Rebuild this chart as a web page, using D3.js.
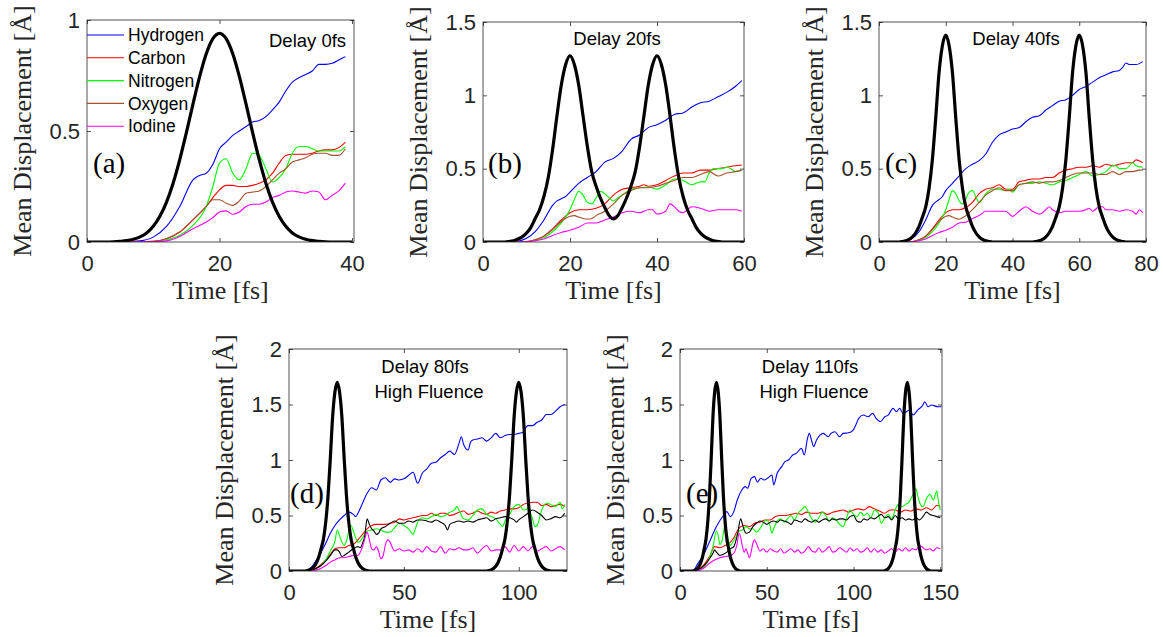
<!DOCTYPE html>
<html>
<head>
<meta charset="utf-8">
<script src="https://cdn.jsdelivr.net/npm/d3@7"></script>
<style>
  body { margin: 0; background: #fff; }
  svg { display: block; }
</style>
</head>
<body>
<div id="chart"></div>
<script>
// legend names and colours (from panel a)
const speciesNames = ["Hydrogen", "Carbon", "Nitrogen", "Oxygen", "Iodine"];
const speciesColors = ["#0000ff", "#ff0000", "#00ff00", "#a5502a", "#ff00ff"];

// ---- panel (a) : delay 0 fs ----
const hydrogenA = [[0,0],[6,0.001],[8,0.005],[10,0.022],[12,0.07],[14,0.16],[16,0.28],[17,0.30],[18,0.31],[19,0.35],[20,0.42],[21,0.45],[22,0.48],[23,0.50],[24,0.52],[25,0.54],[26,0.547],[27,0.565],[28,0.595],[29,0.63],[30,0.68],[31,0.72],[32,0.74],[33,0.755],[34,0.77],[35,0.80],[36,0.80],[37,0.805],[38,0.82],[39,0.835]];
const carbonA = [[0,0],[8,0.001],[10,0.003],[12,0.015],[14,0.045],[16,0.10],[18,0.16],[19,0.20],[20,0.235],[21,0.255],[22,0.255],[23,0.25],[24,0.25],[25,0.255],[26,0.265],[27,0.28],[28,0.31],[29,0.355],[30,0.39],[31,0.395],[32,0.395],[33,0.395],[34,0.40],[35,0.41],[36,0.415],[37,0.415],[38,0.425],[39,0.45]];
const nitrogenA = [[0,0],[8,0.001],[10,0.002],[12,0.01],[14,0.03],[16,0.075],[18,0.16],[19,0.25],[20,0.355],[21,0.375],[22,0.31],[23,0.28],[24,0.33],[25,0.40],[26,0.39],[27,0.33],[28,0.27],[29,0.29],[30,0.33],[31,0.40],[32,0.43],[33,0.43],[34,0.42],[35,0.41],[36,0.41],[37,0.41],[38,0.41],[39,0.43]];
const oxygenA = [[0,0],[8,0.001],[10,0.003],[12,0.015],[14,0.045],[16,0.10],[18,0.16],[19,0.19],[20,0.19],[21,0.175],[22,0.165],[23,0.185],[24,0.22],[25,0.225],[26,0.23],[27,0.25],[28,0.28],[29,0.31],[30,0.33],[31,0.36],[32,0.37],[33,0.38],[34,0.395],[35,0.40],[36,0.40],[37,0.39],[38,0.39],[39,0.42]];
const iodineA = [[0,0],[8,0.0005],[10,0.001],[12,0.005],[14,0.025],[16,0.06],[18,0.09],[19,0.11],[20,0.135],[21,0.14],[22,0.125],[23,0.135],[24,0.16],[25,0.17],[26,0.17],[27,0.18],[28,0.20],[29,0.21],[30,0.225],[31,0.23],[32,0.225],[33,0.22],[34,0.23],[35,0.225],[36,0.19],[37,0.21],[38,0.23],[39,0.265]];
const pulseA = [[0,0],[3,0],[4,0.001],[5,0.003],[6,0.006],[7,0.012],[8,0.023],[9,0.041],[10,0.071],[11,0.116],[12,0.180],[13,0.265],[14,0.371],[15,0.493],[16,0.622],[17,0.745],[18,0.848],[19,0.916],[20,0.94],[21,0.916],[22,0.848],[23,0.745],[24,0.622],[25,0.493],[26,0.371],[27,0.265],[28,0.180],[29,0.116],[30,0.071],[31,0.041],[32,0.023],[33,0.012],[34,0.006],[35,0.003],[36,0.001],[37,0],[40,0]];

// ---- panel (b) : delay 20 fs ----
const hydrogenB = [[0,0],[6,0.001],[8,0.005],[10,0.025],[12,0.07],[14,0.15],[16,0.25],[17,0.28],[18,0.295],[19,0.31],[20,0.34],[22,0.40],[24,0.44],[26,0.48],[28,0.545],[30,0.57],[32,0.62],[34,0.70],[36,0.73],[38,0.78],[40,0.80],[42,0.83],[44,0.87],[46,0.88],[48,0.92],[50,0.95],[52,0.96],[54,0.99],[56,1.02],[58,1.06],[59.5,1.10]];
const carbonB = [[0,0],[8,0.001],[10,0.003],[12,0.015],[14,0.04],[16,0.09],[18,0.15],[20,0.20],[22,0.22],[24,0.22],[26,0.23],[28,0.26],[30,0.32],[32,0.36],[34,0.37],[36,0.38],[37,0.39],[38,0.38],[40,0.39],[42,0.42],[44,0.45],[46,0.47],[48,0.47],[50,0.49],[52,0.49],[54,0.50],[56,0.51],[58,0.52],[59.5,0.525]];
const nitrogenB = [[0,0],[8,0.001],[10,0.002],[12,0.01],[14,0.03],[16,0.07],[18,0.13],[20,0.22],[21,0.29],[22,0.345],[23,0.32],[24,0.27],[25,0.26],[26,0.30],[27,0.345],[28,0.33],[29,0.30],[30,0.28],[31,0.30],[32,0.32],[34,0.36],[36,0.37],[38,0.375],[40,0.36],[42,0.39],[44,0.43],[46,0.42],[48,0.39],[50,0.41],[51,0.41],[52,0.47],[53,0.50],[55,0.50],[56,0.51],[57,0.50],[58,0.48],[59.5,0.49]];
const oxygenB = [[0,0],[8,0.001],[10,0.003],[12,0.015],[14,0.04],[16,0.085],[18,0.14],[20,0.175],[21,0.18],[22,0.17],[23,0.16],[24,0.155],[25,0.16],[26,0.18],[28,0.21],[30,0.26],[32,0.32],[34,0.35],[36,0.37],[38,0.37],[40,0.38],[42,0.40],[44,0.42],[46,0.44],[48,0.44],[50,0.46],[52,0.48],[54,0.45],[56,0.47],[58,0.48],[59.5,0.49]];
const iodineB = [[0,0],[8,0.0005],[10,0.002],[12,0.008],[14,0.02],[16,0.045],[18,0.065],[20,0.08],[22,0.10],[24,0.13],[26,0.13],[28,0.15],[30,0.17],[32,0.20],[34,0.21],[36,0.20],[38,0.22],[39,0.22],[40,0.19],[42,0.21],[43,0.26],[44,0.24],[45,0.21],[46,0.20],[48,0.24],[50,0.23],[52,0.21],[54,0.22],[56,0.22],[58,0.22],[59.5,0.21]];
const pulseB = [[0,0],[5,0],[6,0.003],[7,0.008],[8,0.02],[9,0.035],[10,0.06],[11,0.10],[12,0.16],[13,0.22],[14,0.31],[15,0.44],[16,0.63],[17,0.86],[18,1.07],[19,1.21],[20,1.27],[21,1.21],[22,1.07],[23,0.86],[24,0.65],[25,0.48],[26,0.38],[27,0.30],[28,0.235],[29,0.18],[30,0.157],[31,0.18],[32,0.235],[33,0.30],[34,0.38],[35,0.48],[36,0.65],[37,0.86],[38,1.07],[39,1.21],[40,1.27],[41,1.21],[42,1.07],[43,0.86],[44,0.63],[45,0.44],[46,0.31],[47,0.22],[48,0.16],[49,0.10],[50,0.06],[51,0.035],[52,0.02],[53,0.008],[54,0.003],[55,0],[60,0]];

// ---- panel (c) : delay 40 fs ----
const hydrogenC = [[0,0],[6,0.001],[8,0.005],[10,0.025],[12,0.07],[14,0.15],[16,0.25],[18,0.29],[19,0.31],[20,0.35],[22,0.40],[24,0.45],[26,0.50],[28,0.53],[30,0.555],[32,0.60],[34,0.68],[36,0.73],[38,0.75],[40,0.77],[42,0.78],[44,0.82],[46,0.85],[48,0.86],[50,0.90],[52,0.93],[54,0.96],[56,0.97],[58,1.00],[60,1.04],[62,1.06],[64,1.09],[66,1.12],[68,1.14],[70,1.16],[72,1.17],[73,1.19],[74,1.22],[75,1.21],[77,1.21],[79,1.23]];
const carbonC = [[0,0],[8,0.001],[10,0.003],[12,0.015],[14,0.04],[16,0.09],[18,0.15],[20,0.20],[22,0.22],[24,0.22],[26,0.235],[28,0.27],[30,0.33],[32,0.36],[34,0.37],[36,0.39],[38,0.36],[40,0.36],[42,0.41],[44,0.42],[46,0.43],[48,0.43],[50,0.44],[52,0.44],[54,0.47],[56,0.49],[58,0.50],[60,0.51],[62,0.51],[64,0.52],[66,0.51],[68,0.53],[70,0.52],[72,0.53],[74,0.54],[76,0.54],[77,0.56],[79,0.54]];
const nitrogenC = [[0,0],[8,0.001],[10,0.002],[12,0.01],[14,0.03],[16,0.07],[18,0.13],[20,0.22],[21,0.29],[22,0.35],[23,0.33],[24,0.28],[25,0.26],[26,0.29],[27,0.34],[28,0.35],[29,0.31],[30,0.27],[32,0.33],[34,0.36],[36,0.36],[38,0.35],[39,0.36],[40,0.34],[42,0.39],[44,0.40],[46,0.40],[48,0.41],[50,0.40],[52,0.39],[54,0.41],[56,0.42],[58,0.44],[60,0.46],[62,0.48],[64,0.45],[66,0.46],[68,0.48],[70,0.52],[71,0.52],[72,0.50],[74,0.50],[76,0.54],[77,0.52],[79,0.51]];
const oxygenC = [[0,0],[8,0.001],[10,0.003],[12,0.015],[14,0.04],[16,0.085],[18,0.14],[20,0.175],[21,0.18],[22,0.17],[24,0.155],[26,0.18],[28,0.22],[30,0.27],[32,0.32],[34,0.35],[36,0.37],[38,0.35],[40,0.35],[42,0.39],[44,0.40],[46,0.41],[48,0.40],[50,0.41],[52,0.41],[54,0.42],[56,0.44],[58,0.46],[60,0.47],[62,0.47],[64,0.47],[66,0.46],[68,0.46],[70,0.48],[72,0.46],[74,0.48],[76,0.48],[78,0.49],[79,0.49]];
const iodineC = [[0,0],[8,0.0005],[10,0.002],[12,0.008],[14,0.02],[16,0.045],[18,0.065],[20,0.08],[22,0.10],[24,0.13],[26,0.135],[28,0.16],[30,0.18],[32,0.21],[34,0.21],[36,0.21],[38,0.21],[40,0.175],[42,0.21],[44,0.24],[46,0.21],[48,0.19],[50,0.22],[51,0.24],[52,0.22],[54,0.20],[56,0.21],[58,0.21],[60,0.21],[62,0.22],[63,0.23],[64,0.21],[66,0.24],[67,0.24],[68,0.22],[70,0.22],[72,0.21],[74,0.22],[76,0.21],[77,0.19],[78,0.22],[79,0.20]];
const pulseC = [[0,0],[6,0],[7,0.003],[8,0.008],[9,0.018],[10,0.035],[11,0.063],[12,0.106],[13,0.169],[14,0.24],[15,0.367],[16,0.564],[17,0.846],[18,1.156],[19,1.34],[20,1.41],[21,1.34],[22,1.156],[23,0.846],[24,0.564],[25,0.367],[26,0.24],[27,0.169],[28,0.106],[29,0.063],[30,0.035],[31,0.018],[32,0.008],[33,0.003],[34,0],[46,0],[47,0.003],[48,0.008],[49,0.018],[50,0.035],[51,0.063],[52,0.106],[53,0.169],[54,0.24],[55,0.367],[56,0.564],[57,0.846],[58,1.156],[59,1.34],[60,1.41],[61,1.34],[62,1.156],[63,0.846],[64,0.564],[65,0.367],[66,0.24],[67,0.169],[68,0.106],[69,0.063],[70,0.035],[71,0.018],[72,0.008],[73,0.003],[74,0],[80,0]];

// ---- panel (d) : delay 80 fs, high fluence ----
const hydrogenD = [[0,0],[6,0.001],[8,0.01],[10,0.04],[12,0.10],[14,0.17],[16,0.25],[18,0.34],[20,0.41],[22,0.46],[24,0.50],[26,0.53],[28,0.51],[29,0.49],[30,0.52],[32,0.61],[34,0.70],[36,0.75],[38,0.73],[40,0.82],[42,0.84],[43,0.82],[44,0.80],[46,0.83],[48,0.82],[50,0.83],[52,0.86],[54,0.89],[56,0.79],[58,0.88],[60,0.92],[62,0.97],[64,0.98],[66,1.02],[68,1.05],[70,1.08],[72,1.05],[74,1.15],[75,1.21],[76,1.14],[78,1.09],[79,1.16],[80,1.18],[82,1.19],[84,1.20],[86,1.17],[88,1.20],[90,1.24],[92,1.20],[94,1.22],[96,1.23],[98,1.23],[100,1.24],[102,1.25],[103,1.29],[104,1.31],[106,1.31],[108,1.34],[110,1.36],[112,1.41],[114,1.41],[116,1.44],[118,1.48],[120,1.50]];
const carbonD = [[0,0],[8,0.003],[10,0.01],[12,0.03],[14,0.06],[16,0.10],[18,0.15],[20,0.20],[22,0.21],[24,0.21],[26,0.23],[28,0.24],[30,0.28],[32,0.33],[34,0.38],[36,0.41],[38,0.42],[40,0.42],[42,0.42],[44,0.43],[46,0.44],[48,0.47],[50,0.46],[52,0.47],[54,0.48],[56,0.49],[58,0.50],[60,0.50],[62,0.52],[64,0.50],[66,0.52],[68,0.52],[70,0.50],[72,0.51],[74,0.53],[76,0.54],[78,0.51],[80,0.52],[82,0.54],[84,0.52],[86,0.51],[88,0.53],[90,0.52],[92,0.54],[94,0.55],[96,0.56],[98,0.56],[100,0.57],[102,0.60],[104,0.61],[106,0.62],[108,0.62],[110,0.59],[112,0.60],[114,0.58],[116,0.59],[118,0.60],[120,0.58]];
const nitrogenD = [[0,0],[8,0.002],[10,0.005],[12,0.02],[14,0.05],[16,0.10],[18,0.18],[20,0.27],[21,0.37],[22,0.32],[23,0.26],[24,0.23],[25,0.27],[26,0.35],[27,0.41],[28,0.36],[29,0.30],[30,0.26],[31,0.27],[32,0.30],[34,0.36],[36,0.37],[38,0.38],[40,0.37],[42,0.35],[44,0.35],[46,0.39],[48,0.43],[50,0.41],[52,0.38],[54,0.33],[55,0.38],[56,0.44],[58,0.48],[60,0.47],[62,0.49],[64,0.51],[66,0.49],[68,0.50],[70,0.53],[72,0.55],[73,0.58],[74,0.55],[76,0.47],[78,0.46],[80,0.50],[82,0.55],[84,0.56],[86,0.51],[88,0.49],[90,0.47],[92,0.42],[93,0.40],[94,0.45],[96,0.51],[98,0.58],[100,0.60],[102,0.55],[104,0.56],[106,0.47],[107,0.40],[108,0.41],[110,0.55],[112,0.61],[114,0.60],[116,0.58],[118,0.62],[119,0.56],[120,0.60]];
const oxygenD = [[0,0],[8,0.002],[10,0.008],[12,0.025],[14,0.05],[16,0.09],[18,0.14],[20,0.19],[21,0.19],[22,0.17],[23,0.13],[24,0.14],[26,0.17],[28,0.20],[30,0.22],[31,0.21],[32,0.25],[33,0.32],[34,0.47],[35,0.42],[36,0.38],[37,0.36],[38,0.33],[39,0.34],[40,0.38],[42,0.40],[44,0.43],[46,0.45],[48,0.43],[50,0.43],[52,0.45],[54,0.44],[56,0.46],[58,0.46],[60,0.45],[62,0.44],[64,0.46],[66,0.44],[68,0.41],[69,0.37],[70,0.42],[72,0.44],[74,0.45],[76,0.44],[78,0.45],[80,0.44],[82,0.46],[84,0.47],[86,0.48],[88,0.45],[90,0.47],[92,0.48],[94,0.49],[96,0.48],[98,0.46],[99,0.44],[100,0.46],[102,0.49],[104,0.52],[106,0.55],[108,0.53],[110,0.50],[112,0.46],[114,0.47],[116,0.49],[118,0.48],[120,0.52]];
const iodineD = [[0,0],[8,0.001],[10,0.003],[12,0.01],[14,0.025],[16,0.05],[18,0.08],[20,0.10],[22,0.12],[24,0.12],[26,0.13],[28,0.14],[30,0.14],[31,0.17],[32,0.22],[33,0.29],[34,0.35],[35,0.28],[36,0.20],[37,0.19],[38,0.22],[39,0.18],[40,0.11],[41,0.14],[42,0.24],[43,0.28],[44,0.26],[45,0.21],[46,0.18],[48,0.20],[50,0.18],[52,0.19],[54,0.17],[56,0.20],[58,0.17],[60,0.22],[62,0.18],[64,0.17],[66,0.22],[68,0.16],[70,0.20],[72,0.19],[74,0.21],[76,0.19],[78,0.19],[80,0.21],[82,0.16],[84,0.20],[86,0.23],[88,0.18],[90,0.19],[92,0.19],[94,0.22],[96,0.17],[98,0.23],[100,0.18],[102,0.22],[104,0.18],[106,0.22],[108,0.18],[110,0.20],[112,0.22],[114,0.18],[116,0.20],[118,0.22],[120,0.19]];
const pulseD = [[0,0],[7,0],[8,0.003],[9,0.010],[10,0.022],[11,0.043],[12,0.077],[13,0.128],[14,0.204],[15,0.289],[16,0.442],[17,0.68],[18,1.02],[19,1.394],[20,1.615],[21,1.70],[22,1.615],[23,1.394],[24,1.02],[25,0.68],[26,0.442],[27,0.289],[28,0.204],[29,0.128],[30,0.077],[31,0.043],[32,0.022],[33,0.010],[34,0.003],[35,0],[86,0],[87,0.003],[88,0.010],[89,0.022],[90,0.043],[91,0.077],[92,0.128],[93,0.204],[94,0.289],[95,0.442],[96,0.68],[97,1.02],[98,1.394],[99,1.615],[100,1.70],[101,1.615],[102,1.394],[103,1.02],[104,0.68],[105,0.442],[106,0.289],[107,0.204],[108,0.128],[109,0.077],[110,0.043],[111,0.022],[112,0.010],[113,0.003],[114,0],[121,0]];

// ---- panel (e) : delay 110 fs, high fluence ----
const hydrogenE = [[0,0],[6,0.002],[8,0.01],[10,0.06],[14,0.16],[17.5,0.28],[21,0.40],[25,0.50],[27,0.535],[29,0.49],[31,0.535],[33,0.64],[35.6,0.73],[37.5,0.76],[39,0.745],[41,0.835],[43,0.85],[44.6,0.80],[46.5,0.835],[48.5,0.82],[50.4,0.835],[53,0.865],[54,0.775],[56,0.88],[58.6,0.94],[60.5,0.985],[62.5,1.00],[65,1.045],[67,1.06],[70,1.105],[71.6,1.045],[73.5,1.195],[74.5,1.24],[76,1.165],[77,1.12],[78.7,1.18],[80.7,1.225],[82.6,1.24],[85.4,1.21],[87,1.24],[89.3,1.255],[92,1.21],[94,1.24],[97,1.245],[99.8,1.27],[101.3,1.315],[103,1.375],[105.6,1.405],[108.4,1.39],[111,1.42],[113,1.375],[115.5,1.345],[118,1.39],[120,1.405],[122.8,1.465],[124.7,1.435],[126.6,1.465],[128.5,1.42],[132.4,1.45],[134.3,1.405],[137,1.45],[140,1.495],[141,1.525],[143,1.48],[144.8,1.495],[148.7,1.48],[150.6,1.48]];
const carbonE = [[0,0],[8,0.003],[10,0.01],[14,0.06],[17,0.13],[20,0.22],[23,0.21],[26,0.23],[29,0.26],[31,0.30],[33,0.36],[35,0.40],[37,0.41],[40,0.40],[43,0.43],[46,0.44],[49,0.46],[52,0.46],[55,0.49],[58,0.50],[61,0.50],[64,0.51],[67,0.52],[70,0.51],[73,0.53],[76,0.52],[79,0.52],[82,0.53],[85,0.51],[88,0.53],[91,0.54],[94,0.55],[97,0.53],[100,0.55],[103,0.56],[106,0.55],[109,0.58],[112,0.56],[115,0.54],[118,0.52],[121,0.55],[124,0.55],[127,0.53],[130,0.55],[133,0.54],[136,0.56],[139,0.55],[142,0.57],[145,0.55],[148,0.59],[150,0.58]];
const nitrogenE = [[0,0],[8,0.002],[10,0.005],[14,0.04],[17,0.12],[19,0.22],[21,0.36],[22,0.32],[23,0.24],[24,0.26],[25,0.34],[26,0.42],[27,0.35],[28,0.27],[29,0.23],[30,0.25],[32,0.30],[34,0.36],[36,0.37],[38,0.40],[40,0.38],[42,0.38],[44,0.35],[46,0.38],[48,0.43],[50,0.46],[52,0.40],[53,0.34],[54,0.38],[56,0.45],[58,0.47],[60,0.44],[62,0.47],[64,0.50],[66,0.46],[68,0.52],[70,0.55],[72,0.58],[74,0.53],[76,0.47],[78,0.44],[80,0.48],[82,0.53],[84,0.50],[86,0.45],[88,0.48],[90,0.46],[92,0.42],[94,0.40],[96,0.48],[98,0.55],[100,0.51],[102,0.49],[104,0.53],[106,0.50],[108,0.52],[110,0.48],[112,0.55],[114,0.53],[116,0.43],[118,0.48],[120,0.51],[122,0.47],[124,0.55],[126,0.60],[128,0.58],[130,0.60],[132,0.62],[134,0.68],[136,0.74],[137,0.68],[138,0.62],[140,0.58],[142,0.65],[144,0.69],[146,0.64],[148,0.72],[149,0.62],[150,0.55]];
const oxygenE = [[0,0],[8,0.002],[10,0.008],[14,0.05],[17,0.11],[19,0.16],[20,0.19],[21,0.17],[23,0.14],[25,0.15],[27,0.17],[29,0.20],[31,0.22],[33,0.32],[35,0.47],[36,0.42],[37,0.37],[38,0.34],[40,0.35],[42,0.40],[44,0.43],[46,0.45],[48,0.44],[50,0.42],[52,0.44],[54,0.45],[56,0.44],[58,0.46],[60,0.45],[62,0.44],[64,0.42],[66,0.46],[68,0.45],[70,0.44],[72,0.47],[74,0.45],[76,0.44],[78,0.46],[80,0.44],[82,0.46],[84,0.47],[86,0.45],[88,0.47],[90,0.46],[92,0.47],[94,0.47],[96,0.46],[98,0.49],[100,0.50],[102,0.45],[104,0.44],[106,0.47],[108,0.46],[110,0.48],[112,0.47],[114,0.49],[116,0.51],[118,0.48],[120,0.49],[122,0.46],[124,0.50],[126,0.47],[128,0.48],[130,0.46],[132,0.47],[134,0.46],[136,0.48],[138,0.46],[140,0.49],[142,0.53],[144,0.51],[146,0.50],[148,0.49],[150,0.48]];
const iodineE = [[0,0],[8,0.001],[10,0.003],[14,0.03],[17,0.07],[20,0.10],[23,0.12],[26,0.13],[29,0.14],[31,0.16],[33,0.25],[34,0.34],[35,0.30],[36,0.22],[37,0.17],[38,0.20],[39,0.16],[40,0.12],[41,0.17],[42,0.25],[43,0.28],[44,0.25],[45,0.21],[46,0.18],[48,0.20],[50,0.17],[52,0.20],[54,0.18],[56,0.17],[58,0.20],[60,0.16],[62,0.18],[64,0.20],[66,0.17],[68,0.19],[70,0.16],[72,0.18],[74,0.22],[76,0.18],[78,0.17],[80,0.21],[82,0.17],[84,0.19],[86,0.22],[88,0.17],[90,0.18],[92,0.21],[94,0.19],[96,0.17],[98,0.21],[100,0.18],[102,0.20],[104,0.17],[106,0.18],[108,0.21],[110,0.17],[112,0.20],[114,0.17],[116,0.19],[118,0.16],[120,0.18],[122,0.20],[124,0.17],[126,0.20],[128,0.18],[130,0.21],[132,0.18],[134,0.20],[136,0.19],[138,0.23],[140,0.21],[142,0.19],[144,0.20],[146,0.18],[148,0.21],[150,0.20]];
const pulseE = [[0,0],[7,0],[8,0.003],[9,0.010],[10,0.022],[11,0.043],[12,0.077],[13,0.128],[14,0.204],[15,0.289],[16,0.442],[17,0.68],[18,1.02],[19,1.394],[20,1.615],[21,1.70],[22,1.615],[23,1.394],[24,1.02],[25,0.68],[26,0.442],[27,0.289],[28,0.204],[29,0.128],[30,0.077],[31,0.043],[32,0.022],[33,0.010],[34,0.003],[35,0],[117,0],[118,0.003],[119,0.010],[120,0.022],[121,0.043],[122,0.077],[123,0.128],[124,0.204],[125,0.289],[126,0.442],[127,0.68],[128,1.02],[129,1.394],[130,1.615],[131,1.70],[132,1.615],[133,1.394],[134,1.02],[135,0.68],[136,0.442],[137,0.289],[138,0.204],[139,0.128],[140,0.077],[141,0.043],[142,0.022],[143,0.010],[144,0.003],[145,0],[151,0]];

// tick labels
const xTicksA = [0, 20, 40], xTicksB = [0, 20, 40, 60], xTicksC = [0, 20, 40, 60, 80];
const xTicksD = [0, 50, 100], xTicksE = [0, 50, 100, 150];
const yTicksA = [0, 0.5, 1], yTicksBC = [0, 0.5, 1, 1.5], yTicksDE = [0, 0.5, 1, 1.5, 2];

const W = 1163, H = 637;
const ink = "#262626";
const sans = "'Liberation Sans', Arial, sans-serif";
const serif = "'Liberation Serif', 'Times New Roman', serif";

const svg = d3.select("#chart").append("svg")
  .attr("width", W).attr("height", H);

const panels = [
  {id: "a", box: [87, 20, 354, 242], xMax: 40.3, yMax: 1, xt: xTicksA, yt: yTicksA,
   series: [hydrogenA, carbonA, nitrogenA, oxygenA, iodineA], pulse: pulseA, oxyColor: speciesColors[3],
   tag: "(a)", tagDx: 6, tagY: 173, notes: [{t: "Delay 0fs", x: 269, y: 47, anchor: "start"}], legend: true},
  {id: "b", box: [483, 22, 744, 242], xMax: 60, yMax: 1.5, xt: xTicksB, yt: yTicksBC,
   series: [hydrogenB, carbonB, nitrogenB, oxygenB, iodineB], pulse: pulseB, oxyColor: speciesColors[3],
   tag: "(b)", tagDx: 5, tagY: 173, notes: [{t: "Delay 20fs", x: 617, y: 45, anchor: "middle"}]},
  {id: "c", box: [879, 22, 1146, 242], xMax: 80, yMax: 1.5, xt: xTicksC, yt: yTicksBC,
   series: [hydrogenC, carbonC, nitrogenC, oxygenC, iodineC], pulse: pulseC, oxyColor: speciesColors[3],
   tag: "(c)", tagDx: 6, tagY: 173, notes: [{t: "Delay 40fs", x: 1016, y: 45, anchor: "middle"}]},
  {id: "d", box: [289, 349, 567, 571], xMax: 121, yMax: 2, xt: xTicksD, yt: yTicksDE,
   series: [hydrogenD, carbonD, nitrogenD, oxygenD, iodineD], pulse: pulseD, oxyColor: "#000",
   tag: "(d)", tagDx: 1, tagY: 503,
   notes: [{t: "Delay 80fs", x: 425, y: 373, anchor: "middle"}, {t: "High Fluence", x: 429, y: 398, anchor: "middle"}]},
  {id: "e", box: [680, 349, 942, 571], xMax: 151, yMax: 2, xt: xTicksE, yt: yTicksDE,
   series: [hydrogenE, carbonE, nitrogenE, oxygenE, iodineE], pulse: pulseE, oxyColor: "#000",
   tag: "(e)", tagDx: 6, tagY: 503,
   notes: [{t: "Delay 110fs", x: 810, y: 373, anchor: "middle"}, {t: "High Fluence", x: 814, y: 398, anchor: "middle"}]}
];

const fmt = d => d3.format("~g")(d);

panels.forEach(p => {
  const [x0, y0, x1, y1] = p.box;
  const x = d3.scaleLinear().domain([0, p.xMax]).range([x0, x1]);
  const y = d3.scaleLinear().domain([0, p.yMax]).range([y1, y0]);
  const g = svg.append("g");

  g.append("clipPath").attr("id", "clip-" + p.id)
    .append("rect").attr("x", x0).attr("y", y0 - 2).attr("width", x1 - x0).attr("height", y1 - y0 + 2);

  // axes with inward ticks on all four sides (box on)
  const styleAxis = sel => {
    sel.select(".domain").remove();
    sel.selectAll(".tick line").attr("stroke", ink).attr("stroke-width", 0.8);
    sel.selectAll(".tick text").attr("fill", ink).style("font-family", sans).style("font-size", "22px");
  };
  g.append("g").attr("transform", `translate(0,${y1})`)
    .call(d3.axisBottom(x).tickValues(p.xt).tickFormat(fmt).tickSizeInner(-4).tickSizeOuter(0).tickPadding(13.5))
    .call(styleAxis);
  g.append("g").attr("transform", `translate(0,${y0})`)
    .call(d3.axisTop(x).tickValues(p.xt).tickFormat("").tickSizeInner(-4).tickSizeOuter(0))
    .call(styleAxis);
  g.append("g").attr("transform", `translate(${x0},0)`)
    .call(d3.axisLeft(y).tickValues(p.yt).tickFormat(fmt).tickSizeInner(-4).tickSizeOuter(0).tickPadding(7))
    .call(styleAxis);
  g.append("g").attr("transform", `translate(${x1},0)`)
    .call(d3.axisRight(y).tickValues(p.yt).tickFormat("").tickSizeInner(-4).tickSizeOuter(0))
    .call(styleAxis);

  const line = d3.line().x(d => x(d[0])).y(d => y(d[1])).curve(d3.curveMonotoneX);
  const plot = g.append("g").attr("clip-path", `url(#clip-${p.id})`);

  p.series.forEach((s, i) => {
    plot.append("path").datum(s)
      .attr("d", line)
      .attr("fill", "none")
      .attr("stroke", i === 3 ? p.oxyColor : speciesColors[i])
      .attr("stroke-width", 1.1);
  });

  plot.append("path").datum(p.pulse)
    .attr("d", line)
    .attr("fill", "none")
    .attr("stroke", "#000")
    .attr("stroke-width", 3.2)
    .attr("stroke-linejoin", "round");

  // frame
  g.append("rect").attr("x", x0).attr("y", y0).attr("width", x1 - x0).attr("height", y1 - y0)
    .attr("fill", "none").attr("stroke", ink).attr("stroke-width", 0.8);

  // axis titles
  g.append("text")
    .attr("transform", `translate(${x0 - 56},${(y0 + y1) / 2}) rotate(-90)`)
    .attr("text-anchor", "middle")
    .style("font-family", serif).style("font-size", "26px").attr("fill", ink)
    .text("Mean Displacement [Å]");
  g.append("text")
    .attr("x", (x0 + x1) / 2).attr("y", y1 + 57)
    .attr("text-anchor", "middle")
    .style("font-family", serif).style("font-size", "26px").attr("fill", ink)
    .text("Time [fs]");

  // panel tag
  g.append("text")
    .attr("x", x0 + p.tagDx).attr("y", p.tagY)
    .style("font-family", serif).style("font-size", "29px").attr("fill", "#000")
    .text(p.tag);

  p.notes.forEach(n => {
    g.append("text")
      .attr("x", n.x).attr("y", n.y)
      .attr("text-anchor", n.anchor)
      .style("font-family", sans).style("font-size", "18.5px").attr("fill", "#000")
      .text(n.t);
  });

  if (p.legend) {
    const lg = g.append("g");
    speciesNames.forEach((name, i) => {
      const yy = 35 + i * 22.8;
      lg.append("line").attr("x1", x0).attr("x2", x0 + 37).attr("y1", yy).attr("y2", yy)
        .attr("stroke", speciesColors[i]).attr("stroke-width", 1.1);
      lg.append("text").attr("x", x0 + 41).attr("y", yy).attr("dy", "0.35em")
        .style("font-family", sans).style("font-size", "17.5px").attr("fill", "#000")
        .text(name);
    });
  }
});
</script>
</body>
</html>
